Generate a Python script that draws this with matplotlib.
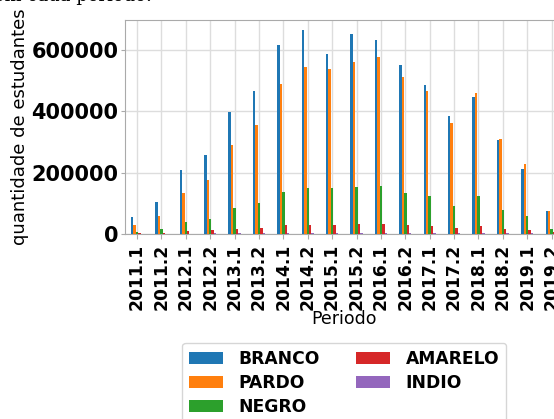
import pandas as pd
import matplotlib.pyplot as plt
from matplotlib.ticker import MultipleLocator

periodos = ['2011.1', '2011.2', '2012.1', '2012.2', '2013.1', '2013.2', '2014.1', '2014.2', '2015.1',
            '2015.2', '2016.1', '2016.2', '2017.1', '2017.2', '2018.1', '2018.2', '2019.1', '2019.2']
branco = [56000, 104000, 209000, 258000, 397000, 464000, 614000, 663000, 585000,
          650000, 632000, 551000, 485000, 385000, 447000, 306000, 212000, 75000]
pardo = [28000, 59000, 135000, 176000, 289000, 356000, 489000, 544000, 538000,
         559000, 577000, 510000, 465000, 361000, 460000, 310000, 228000, 74000]
negro = [6500, 16000, 39000, 50000, 84000, 101000, 136000, 150000, 149000,
         153000, 155000, 135000, 124000, 92000, 124000, 78000, 58000, 17000]
amarelo = [2000, 4300, 9800, 12000, 17400, 20700, 28300, 30400, 29300,
           31600, 32600, 29300, 25000, 19600, 25000, 16300, 12000, 5000]
indio = [600, 900, 1500, 2000, 2800, 3200, 4000, 4300, 4200,
         4400, 4500, 4000, 3500, 2700, 3400, 2300, 1700, 600]

df = pd.DataFrame({'BRANCO': branco, 'PARDO': pardo, 'NEGRO': negro,
                   'AMARELO': amarelo, 'INDIO': indio}, index=periodos)

fig = plt.figure(figsize=(5.54, 4.19), dpi=100)
ax = fig.add_axes([0.2253, 0.4415, 0.7924, 0.5107])
df.plot(kind='bar', ax=ax, rot=90, zorder=3)

ax.yaxis.set_major_locator(MultipleLocator(200000))
ax.grid(True, color='#dddddd', linewidth=1, zorder=0)
ax.set_axisbelow(True)
for s in ax.spines.values():
    s.set_color('#aaaaaa')
ax.tick_params(colors='#aaaaaa', labelcolor='black')
ax.tick_params(axis='y', length=3, pad=1.5)
for lab in ax.get_xticklabels():
    lab.set_fontweight('bold')
    lab.set_fontsize(12.3)
for lab in ax.get_yticklabels():
    lab.set_fontweight('bold')
    lab.set_fontsize(15)

ax.set_ylabel('quantidade de estudantes', fontsize=13, labelpad=2)
ax.set_xlabel('Periodo', fontsize=12.5, labelpad=0)

ax.legend(loc='upper center', bbox_to_anchor=(0.5, -0.508), borderaxespad=0, ncol=2,
          prop={'weight': 'bold', 'size': 12.3}, labelspacing=0.35, handletextpad=0.9,
          columnspacing=2.1)

# titulo cortado no topo da imagem original
fig.text(152 / 554, 1 - 0.8 / 419, 'Quantidade de estudantes por cor/raça em cada período:',
         ha='right', va='baseline', family='DejaVu Serif', fontsize=13)

fig.savefig('out.png', dpi=100)
